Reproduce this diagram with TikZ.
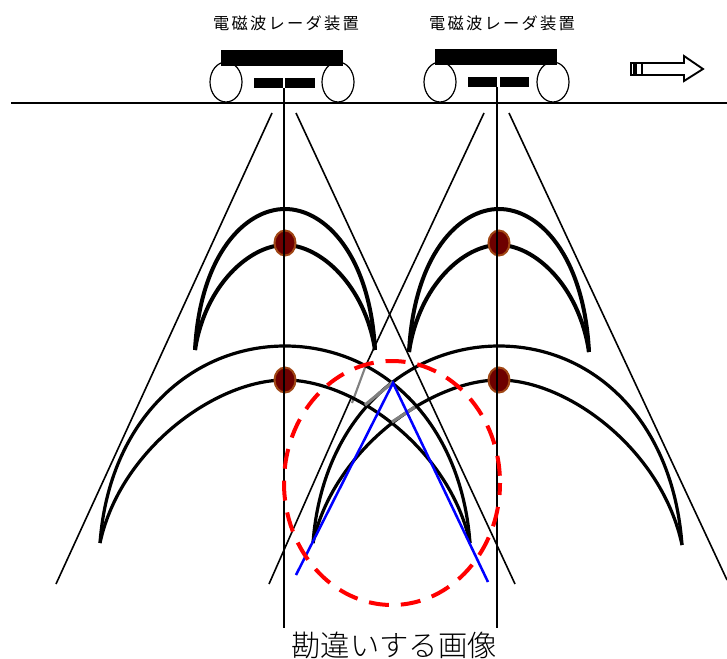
\documentclass[tikz,border=0pt]{standalone}
\usepackage{fontspec}
\setmainfont{Noto Sans CJK JP}
\newfontfamily\cjklight{Noto Sans CJK JP Light}
\tikzset{
  x=0.75pt,y=-0.75pt,
  thinline/.style={black,line width=1.2pt},
  vline/.style={black,line width=1.6pt},
  curve/.style={black,line width=2.4pt},
  smallcurve/.style={black,line width=3pt},
  greyline/.style={gray,line width=2.4pt},
  wheel/.style={draw=black,fill=white,line width=0.9pt},
  solid box/.style={fill=black,draw=none},
  target/.style={draw={rgb,255:red,160;green,70;blue,20},fill={rgb,255:red,110;green,0;blue,0},line width=1.5pt},
  title/.style={font=\fontsize{12.2}{13}\selectfont,inner sep=0pt,anchor=center},
}
\begin{document}
\begin{tikzpicture}
\useasboundingbox (0,0) rectangle (727,659);
% labels
\node[title] (t1) at (286,23) {電\hspace{1.7pt}磁\hspace{1.7pt}波\hspace{1.7pt}レ\hspace{1.7pt}ー\hspace{1.7pt}ダ\hspace{1.7pt}装\hspace{1.7pt}置};
\node[title] (t2) at (502,23) {電\hspace{1.7pt}磁\hspace{1.7pt}波\hspace{1.7pt}レ\hspace{1.7pt}ー\hspace{1.7pt}ダ\hspace{1.7pt}装\hspace{1.7pt}置};
\node[inner sep=0pt,font=\cjklight\fontsize{22}{24}\selectfont] (t3) at (394,645) {勘違いする画像};
% wheels
\draw[wheel] (226,82) ellipse (16 and 20);
\draw[wheel] (338,82) ellipse (16 and 20);
\draw[wheel] (440,82) ellipse (16 and 20);
\draw[wheel] (553,82) ellipse (16 and 20);
% bodies
\fill[solid box] (221,50) rectangle (343,66);
\fill[solid box] (254,78) rectangle (283,88);
\fill[solid box] (285,78) rectangle (315,88);
\fill[solid box] (435,49) rectangle (557,65);
\fill[solid box] (468,77) rectangle (497,87);
\fill[solid box] (500,77) rectangle (529,87);
% ground
\draw[vline] (11,103) -- (727,103);
% arrow
\draw[black,line width=1.4pt,fill=white] (642,63) -- (684,63) -- (684,56) -- (703,69) -- (684,81) -- (684,75) -- (642,75) -- cycle;
\draw[black,line width=1.2pt,fill=white] (631,63) rectangle (634,75);
\draw[black,line width=1.2pt,fill=white] (636,63) rectangle (642,75);
% cones
\draw[thinline] (272,113) -- (56,584);
\draw[thinline] (296,113) -- (515,584);
\draw[thinline] (484,113) -- (366,365);
\draw[gray,line width=1.6pt] (366,365) -- (352,403);
\draw[thinline] (352,396) -- (269,584);
\draw[thinline] (509,113) -- (727,580);
% verticals
\draw[vline] (284,88) -- (284,628);
\draw[vline] (497,87) -- (497,628);
% hyperbolas left
\draw[smallcurve] (195,350) .. controls (200,255) and (245,209) .. (285,209) .. controls (325,209) and (370,255) .. (375,350);
\draw[smallcurve] (195,350) .. controls (205,285) and (250,245) .. (285,245) .. controls (320,245) and (365,285) .. (375,350);
\draw[curve] (100,543) .. controls (109,420) and (191,346) .. (285,346) .. controls (379,346) and (461,420) .. (470,543);
\draw[curve] (100,543) .. controls (120,450) and (215,380) .. (285,380) .. controls (355,380) and (450,450) .. (470,543);
% hyperbolas right
\draw[smallcurve] (409,352) .. controls (414,255) and (459,209) .. (499,209) .. controls (539,209) and (584,255) .. (589,352);
\draw[smallcurve] (409,352) .. controls (419,285) and (464,245) .. (499,245) .. controls (534,245) and (579,285) .. (589,352);
\draw[curve] (313,543) .. controls (322,420) and (405,346) .. (499,346) .. controls (593,346) and (673,420) .. (682,545);
\draw[curve] (313,543) .. controls (333,450) and (430,380) .. (499,380) .. controls (568,380) and (662,450) .. (682,545);
% grey
\draw[greyline] (393,382) -- (365,405);
\draw[greyline] (415,407) -- (392,422);
% targets
\draw[target] (285,243) ellipse (10.5 and 12.5);
\draw[target] (499,243) ellipse (10.5 and 12.5);
\draw[target] (285,380) ellipse (10.5 and 12.5);
\draw[target] (499,380) ellipse (10.5 and 12.5);
\draw[vline] (284,225) -- (284,262);
\draw[vline] (497,225) -- (497,262);
\draw[vline] (284,362) -- (284,398);
\draw[vline] (497,362) -- (497,398);
% blue
\draw[blue,line width=1.9pt] (296,575) -- (393,383) -- (488,582);
% red circle
\draw[red,line width=3pt,dash pattern=on 15pt off 9pt,dash phase=6pt] (392,483) ellipse (108 and 122);
\end{tikzpicture}
\end{document}
